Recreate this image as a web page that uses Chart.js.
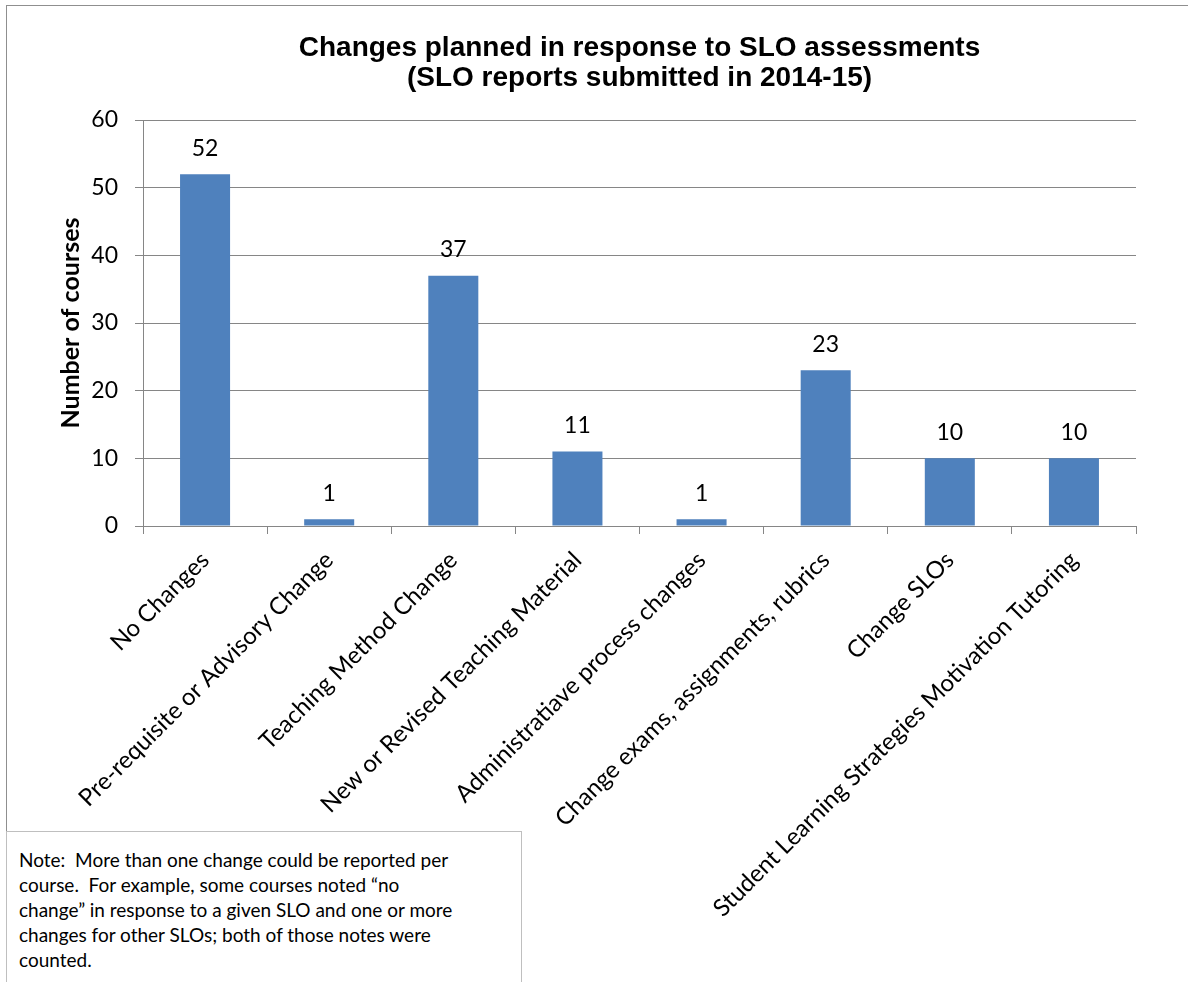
<!DOCTYPE html>
<html>
<head>
<meta charset="utf-8">
<script src="https://cdn.jsdelivr.net/npm/chart.js@4"></script>
<style>
  html, body { margin:0; padding:0; background:#fff; overflow:hidden; width:1188px; height:982px; }
  #frame { position:absolute; left:6px; top:5px; width:1400px; height:1100px; border:1px solid #8f8f8f; box-sizing:border-box; }
  #c { position:absolute; left:0; top:0; }
  #note { position:absolute; left:6px; top:831px; width:516px; height:200px; box-sizing:border-box;
          border:1px solid #bfbfbf; background:#fff; font-family:Lato, "Open Sans", sans-serif;
          font-size:19px; line-height:25px; color:#000; padding:15px 0 0 12px; white-space:nowrap; }
</style>
</head>
<body>
<div id="frame"></div>
<canvas id="c" width="1294" height="982"></canvas>
<div id="note">Note:&nbsp; More than one change could be reported per<br>course.&nbsp; For example, some courses noted “no<br>change” in response to a given SLO and one or more<br>changes for other SLOs; both of those notes were<br>counted.</div>
<script>
const categories = [
  "No Changes",
  "Pre-requisite or Advisory Change",
  "Teaching Method Change",
  "New or Revised Teaching Material",
  "Administratiave process changes",
  "Change exams, assignments, rubrics",
  "Change SLOs",
  "Student Learning Strategies Motivation Tutoring"
];
const courseCounts = [52, 1, 37, 11, 1, 23, 10, 10];
const yTicks = [0, 10, 20, 30, 40, 50, 60];
const titleLines = ["Changes planned in response to SLO assessments", "(SLO reports submitted in 2014-15)"];
const yAxisTitle = "Number of courses";

const valueLabels = {
  id: 'valueLabels',
  afterDatasetsDraw(chart) {
    const ctx = chart.ctx;
    const meta = chart.getDatasetMeta(0);
    ctx.save();
    ctx.font = '23px Lato';
    ctx.fillStyle = '#000';
    ctx.textAlign = 'center';
    ctx.textBaseline = 'middle';
    meta.data.forEach((bar, i) => {
      ctx.fillText(String(courseCounts[i]), bar.x, bar.y - 26);
    });
    ctx.restore();
  }
};

new Chart(document.getElementById('c'), {
  type: 'bar',
  data: {
    labels: categories,
    datasets: [{
      data: courseCounts,
      backgroundColor: '#4F81BD',
      borderWidth: 0,
      barPercentage: 0.5,
      categoryPercentage: 0.806
    }]
  },
  options: {
    responsive: false,
    animation: false,
    devicePixelRatio: 1,
    layout: { padding: { left: 52, right: 158, top: 0, bottom: 0 } },
    plugins: {
      legend: { display: false },
      tooltip: { enabled: false },
      title: {
        display: true,
        fullSize: false,
        text: titleLines,
        color: '#000',
        font: { family: '"Liberation Sans", Arial, sans-serif', size: 28, weight: 'bold', lineHeight: 30 / 28 },
        padding: { top: 33, bottom: 27 }
      }
    },
    scales: {
      x: {
        grid: { display: true, drawOnChartArea: false, drawTicks: true, tickLength: 8, color: '#868686', offset: true },
        border: { display: true, color: '#868686', width: 1 },
        ticks: { color: '#000', font: { family: 'Lato', size: 24 }, minRotation: 45, maxRotation: 45, autoSkip: false, padding: 12 },
        afterFit(scale) { scale.height = 456; }
      },
      y: {
        min: 0, max: 60,
        afterBuildTicks(scale) { scale.ticks = yTicks.map(v => ({ value: v })); },
        grid: { color: '#868686', tickLength: 8, drawTicks: true },
        border: { display: true, color: '#868686', width: 1 },
        ticks: { color: '#000', font: { family: 'Lato', size: 23 }, padding: 17 },
        title: { display: true, text: yAxisTitle, color: '#000', font: { family: 'Lato', size: 25, weight: 'bold' }, padding: 4 },
        afterFit(scale) { scale.width = 91; }
      }
    }
  },
  plugins: [valueLabels]
});
</script>
</body>
</html>
